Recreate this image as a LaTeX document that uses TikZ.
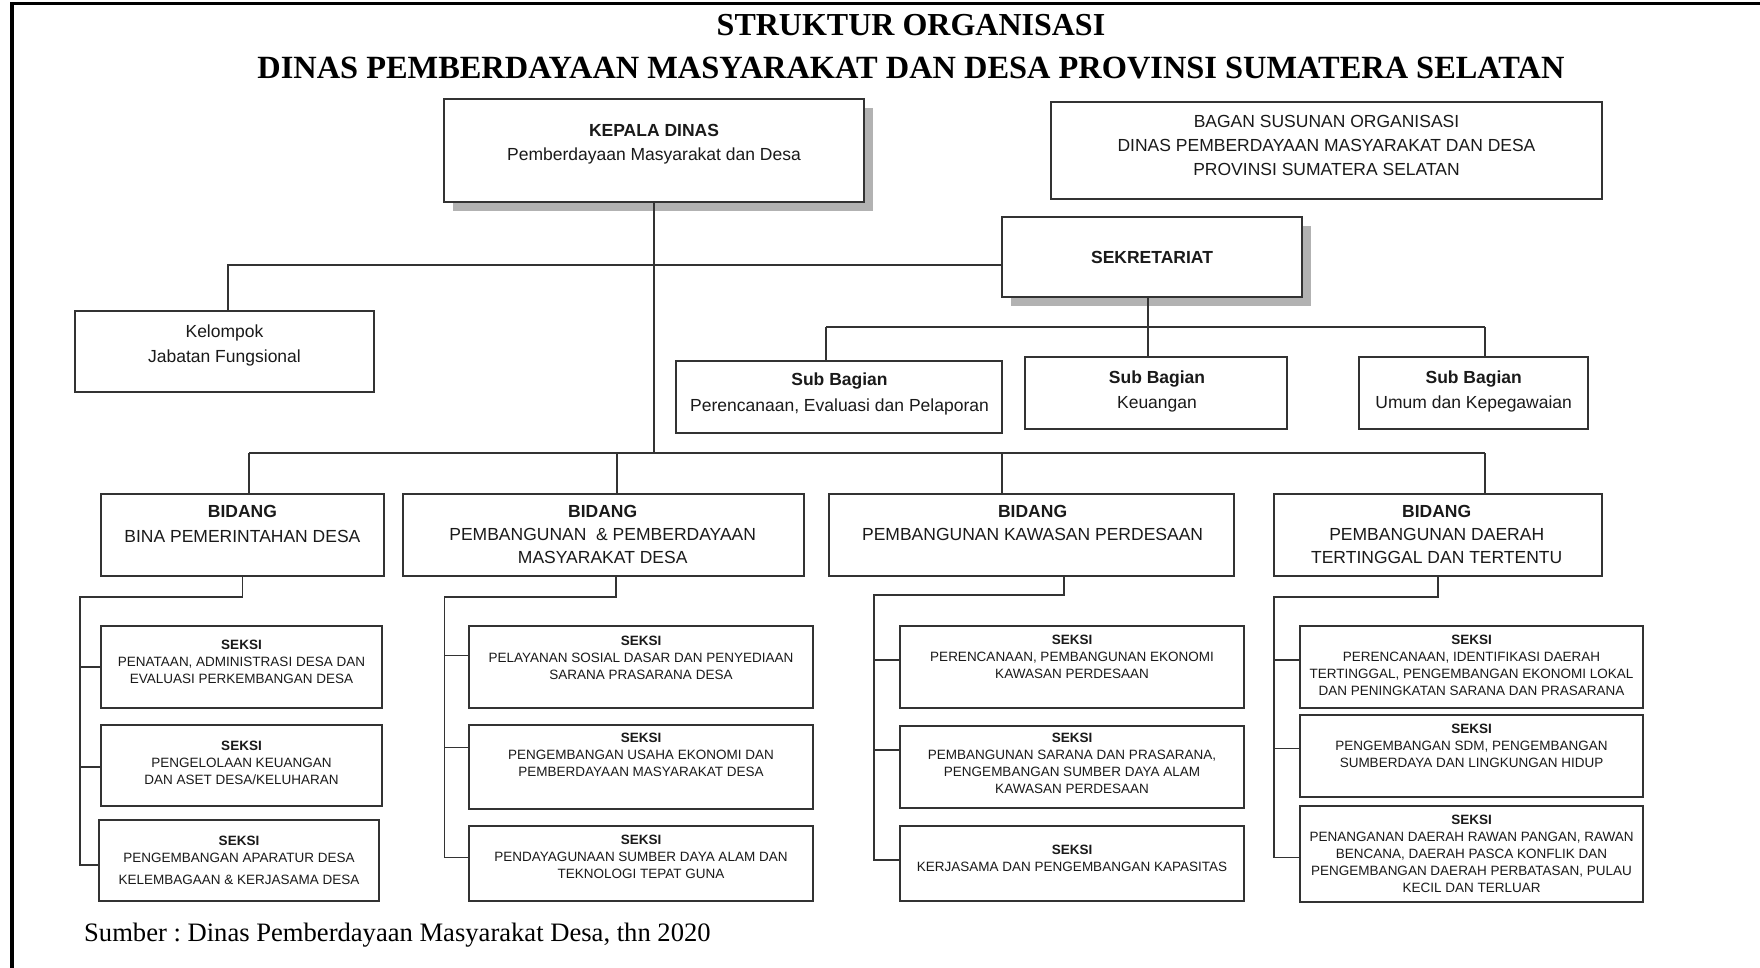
\documentclass[tikz,border=0pt]{standalone}
\usepackage{fontspec}
\setmainfont{Liberation Serif}
\newfontfamily\arialf{Liberation Sans}
\usetikzlibrary{shadows}
\definecolor{linec}{HTML}{333333}
\definecolor{txtc}{HTML}{1A1A1A}
\frenchspacing
\begin{document}
\begin{tikzpicture}[x=1pt,y=-1pt,
  ln/.style={draw=linec,line width=1.6pt},
  bx/.style={draw=linec,line width=1.6pt,fill=white,inner sep=0pt,outer sep=0pt},
  sz/.style 2 args={minimum width=#1pt,minimum height=#2pt},
  shbx/.style={bx,drop shadow={shadow xshift=9pt,shadow yshift=-9pt,fill=black!30,opacity=1}},
  big/.style={font=\arialf\fontsize{17.5}{#1}\selectfont,text=txtc,align=center,inner sep=0pt,anchor=north},
  big/.default=24,
  small/.style={font=\arialf\fontsize{13.5}{17}\selectfont,text=txtc,align=center,inner sep=0pt,anchor=north},
  ttl/.style={font=\bfseries\fontsize{#1}{38}\selectfont,text=black,inner sep=0pt},
  ttl/.default=32,
]
\useasboundingbox (0,0) rectangle (1760,968);
\fill[white] (0,0) rectangle (1760,968);
% frame
\draw[line width=3.5pt,black] (12,968) -- (12,3.5) -- (1760,3.5);
% titles
\node[ttl] (t1) at (911,25) {STRUKTUR ORGANISASI};
\node[ttl=32.4] (t2) at (911,68.5) {DINAS PEMBERDAYAAN MASYARAKAT DAN DESA PROVINSI SUMATERA SELATAN};

% top boxes
\node[shbx,sz={420}{103}] (k) at (654,150.5) {};
\node[big] (kt) at (654,123.7) {\textbf{KEPALA DINAS}\\Pemberdayaan Masyarakat dan Desa};
\node[bx,sz={551}{97}] (bg) at (1326.5,150.5) {};
\node[big] (bgt) at (1326.5,114.7) {BAGAN SUSUNAN ORGANISASI\\DINAS PEMBERDAYAAN MASYARAKAT DAN DESA\\PROVINSI SUMATERA SELATAN};
\node[shbx,sz={300}{80}] (s) at (1152,257) {};
\node[big] (st) at (1152,250.7) {\textbf{SEKRETARIAT}};
\node[bx,sz={299}{81}] (kf) at (224.5,351.5) {};
\node[big=25] (kft) at (224.5,324.7) {Kelompok\\Jabatan Fungsional};
\node[bx,sz={326}{72}] (sb1) at (839,397) {};
\node[big=26] (sb1t) at (839.5,372.7) {\textbf{Sub Bagian}\\Perencanaan, Evaluasi dan Pelaporan};
\node[bx,sz={262}{72}] (sb2) at (1156,393) {};
\node[big=25] (sb2t) at (1157,370.7) {\textbf{Sub Bagian}\\Keuangan};
\node[bx,sz={229}{72}] (sb3) at (1473.5,393) {};
\node[big=25] (sb3t) at (1473.7,370.7) {\textbf{Sub Bagian}\\Umum dan Kepegawaian};

% bidang
\node[bx,sz={283}{82}] (b1) at (242.5,535) {};
\node[big=25.5] (b1t) at (242.4,504.7) {\textbf{BIDANG}\\BINA PEMERINTAHAN DESA};
\node[bx,sz={401}{82}] (b2) at (603.5,535) {};
\node[big=23] (b2t) at (602.7,504.7) {\textbf{BIDANG}\\PEMBANGUNAN \ \& PEMBERDAYAAN\\MASYARAKAT DESA};
\node[bx,sz={405}{82}] (b3) at (1031.5,535) {};
\node[big=23] (b3t) at (1032.6,504.7) {\textbf{BIDANG}\\PEMBANGUNAN KAWASAN PERDESAAN};
\node[bx,sz={328}{82}] (b4) at (1438,535) {};
\node[big=23] (b4t) at (1436.7,504.7) {\textbf{BIDANG}\\PEMBANGUNAN DAERAH\\TERTINGGAL DAN TERTENTU};

% seksi
\node[bx,sz={281}{82}] (s1a) at (241.5,667) {};
\node[small] (s1at) at (241.5,640) {\textbf{SEKSI}\\PENATAAN, ADMINISTRASI DESA DAN\\EVALUASI PERKEMBANGAN DESA};
\node[bx,sz={281}{81}] (s1b) at (241.5,765.5) {};
\node[small] (s1bt) at (241.5,740.4) {\textbf{SEKSI}\\PENGELOLAAN KEUANGAN\\DAN ASET DESA/KELUHARAN};
\node[bx,sz={280}{81}] (s1c) at (239,860.5) {};
\node[small] (s1ct) at (239,835.8) {\textbf{SEKSI}\\PENGEMBANGAN APARATUR DESA\\[5.5pt]KELEMBAGAAN \& KERJASAMA DESA};

\node[bx,sz={344}{82}] (s2a) at (641,667) {};
\node[small] (s2at) at (641,636.1) {\textbf{SEKSI}\\PELAYANAN SOSIAL DASAR DAN PENYEDIAAN\\SARANA PRASARANA DESA};
\node[bx,sz={344}{84}] (s2b) at (641,767) {};
\node[small] (s2bt) at (641,732.5) {\textbf{SEKSI}\\PENGEMBANGAN USAHA EKONOMI DAN\\PEMBERDAYAAN MASYARAKAT DESA};
\node[bx,sz={344}{75}] (s2c) at (641,863.5) {};
\node[small] (s2ct) at (641,834.7) {\textbf{SEKSI}\\PENDAYAGUNAAN SUMBER DAYA ALAM DAN\\TEKNOLOGI TEPAT GUNA};

\node[bx,sz={344}{82}] (s3a) at (1072,667) {};
\node[small] (s3at) at (1072,634.9) {\textbf{SEKSI}\\PERENCANAAN, PEMBANGUNAN EKONOMI\\KAWASAN PERDESAAN};
\node[bx,sz={344}{82}] (s3b) at (1072,767) {};
\node[small] (s3bt) at (1072,732.5) {\textbf{SEKSI}\\PEMBANGUNAN SARANA DAN PRASARANA,\\PENGEMBANGAN SUMBER DAYA ALAM\\KAWASAN PERDESAAN};
\node[bx,sz={344}{75}] (s3c) at (1072,863.5) {};
\node[small] (s3ct) at (1072,844.8) {\textbf{SEKSI}\\KERJASAMA DAN PENGEMBANGAN KAPASITAS};

\node[bx,sz={343}{82}] (s4a) at (1471.5,667) {};
\node[small] (s4at) at (1471.5,634.9) {\textbf{SEKSI}\\PERENCANAAN, IDENTIFIKASI DAERAH\\TERTINGGAL, PENGEMBANGAN EKONOMI LOKAL\\DAN PENINGKATAN SARANA DAN PRASARANA};
\node[bx,sz={343}{82}] (s4b) at (1471.5,756) {};
\node[small] (s4bt) at (1471.5,723.5) {\textbf{SEKSI}\\PENGEMBANGAN SDM, PENGEMBANGAN\\SUMBERDAYA DAN LINGKUNGAN HIDUP};
\node[bx,sz={343}{96}] (s4c) at (1471.5,854) {};
\node[small] (s4ct) at (1471.5,814.5) {\textbf{SEKSI}\\PENANGANAN DAERAH RAWAN PANGAN, RAWAN\\BENCANA, DAERAH PASCA KONFLIK DAN\\PENGEMBANGAN DAERAH PERBATASAN, PULAU\\KECIL DAN TERLUAR};

% source
\node[font=\fontsize{26.6}{30}\selectfont,anchor=west,inner sep=0pt] (src) at (84,935) {Sumber : Dinas Pemberdayaan Masyarakat Desa, thn 2020};

% connectors
\coordinate (hb) at (0,453);
\coordinate (d1) at (249,453);
\coordinate (d2) at (617,453);
\coordinate (d3) at (1002,453);
\coordinate (d4) at (1485,453);
\draw[ln] (k.south) -- (k.south |- hb);
\draw[ln] (d1) -- (d4);
\draw[ln] (d1) -- (d1 |- b1.north);
\draw[ln] (d2) -- (d2 |- b2.north);
\draw[ln] (d3) -- (d3 |- b3.north);
\draw[ln] (d4) -- (d4 |- b4.north);

\coordinate (kb) at (228,265);
\draw[ln] (kb -| s.west) -- (kb) -- (kb |- kf.north);

\coordinate (hs) at (0,327);
\coordinate (e1) at (826,327);
\coordinate (e2) at (1148,327);
\coordinate (e3) at (1485,327);
\draw[ln] (s.south -| e2) -- (e2);
\draw[ln] (e1) -- (e3);
\draw[ln] (e1) -- (e1 |- sb1.north);
\draw[ln] (e2) -- (e2 |- sb2.north);
\draw[ln] (e3) -- (e3 |- sb3.north);

% bidang 1 subtree
\coordinate (tr1) at (80,597);
\draw[ln] (b1.south) -- (b1.south |- tr1) -- (tr1) -- (tr1 |- 0,865) -- (s1c.west |- 0,865);
\draw[ln] (tr1 |- 0,667) -- (s1a.west |- 0,667);
\draw[ln] (tr1 |- 0,767) -- (s1b.west |- 0,767);
% bidang 2 subtree
\coordinate (tr2) at (444.5,597);
\draw[ln] (b2.south -| 616,0) -- (616,597) -- (tr2) -- (tr2 |- 0,857.5) -- (s2c.west |- 0,857.5);
\draw[ln] (tr2 |- 0,655.5) -- (s2a.west |- 0,655.5);
\draw[ln] (tr2 |- 0,747.5) -- (s2b.west |- 0,747.5);
% bidang 3 subtree
\coordinate (tr3) at (874,595);
\draw[ln] (b3.south -| 1064,0) -- (1064,595) -- (tr3) -- (tr3 |- 0,860) -- (s3c.west |- 0,860);
\draw[ln] (tr3 |- 0,660) -- (s3a.west |- 0,660);
\draw[ln] (tr3 |- 0,750) -- (s3b.west |- 0,750);
% bidang 4 subtree
\coordinate (tr4) at (1274,597);
\draw[ln] (b4.south) -- (b4.south |- tr4) -- (tr4) -- (tr4 |- 0,857.5) -- (s4c.west |- 0,857.5);
\draw[ln] (tr4 |- 0,660) -- (s4a.west |- 0,660);
\draw[ln] (tr4 |- 0,748.6) -- (s4b.west |- 0,748.6);
\end{tikzpicture}
\end{document}
